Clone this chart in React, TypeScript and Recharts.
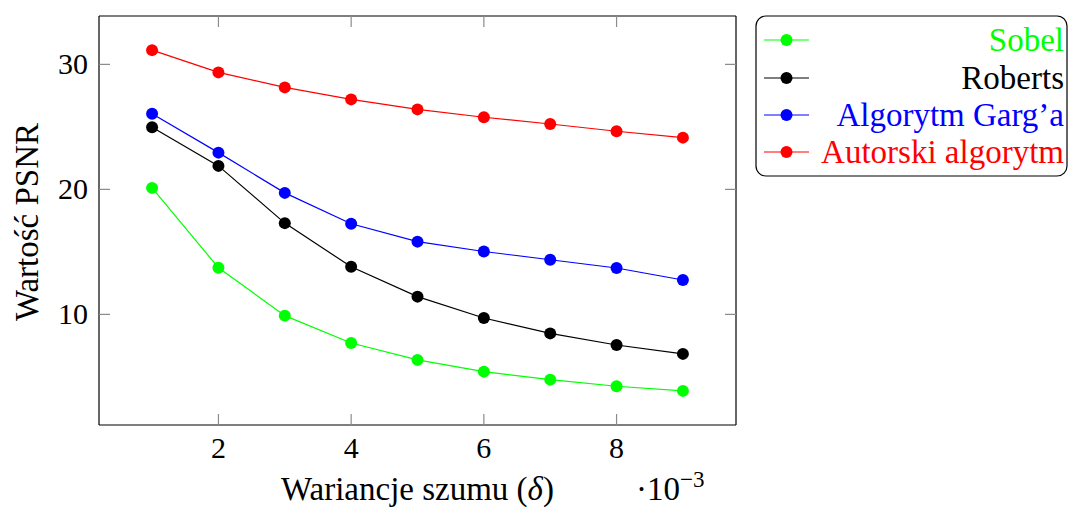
import React from "react";
import { LineChart, Line, XAxis, YAxis } from "recharts";

const xValues = [1, 2, 3, 4, 5, 6, 7, 8, 9];
const sobel = [20.12, 13.73, 9.9, 7.71, 6.36, 5.42, 4.78, 4.25, 3.88];
const roberts = [24.97, 21.88, 17.3, 13.81, 11.42, 9.71, 8.48, 7.55, 6.84];
const garg = [26.05, 22.94, 19.72, 17.25, 15.82, 15.03, 14.37, 13.71, 12.75];
const autorski = [31.14, 29.36, 28.16, 27.2, 26.4, 25.77, 25.23, 24.65, 24.14];
const xTicks = [2, 4, 6, 8];
const yTicks = [10, 20, 30];

const series = [
  { key: "sobel", name: "Sobel", color: "#00ff00", values: sobel },
  { key: "roberts", name: "Roberts", color: "#000000", values: roberts },
  { key: "garg", name: "Algorytm Garg\u2019a", color: "#0000ff", values: garg },
  { key: "autorski", name: "Autorski algorytm", color: "#ff0000", values: autorski },
];

const data = xValues.map((x, i) => {
  const row: any = { x };
  series.forEach((s) => (row[s.key] = s.values[i]));
  return row;
});

const FONT = "Liberation Serif, DejaVu Serif, Times New Roman, serif";
const FS = 30;
const LFS = 33;
const TICK_LEN = 11;
const TICK_COLOR = "#8c8c8c";

const txt = { fontFamily: FONT, fontSize: FS };
const ltxt = { fontFamily: FONT, fontSize: LFS };

const BottomTick = (props: any) => {
  const { x, y, payload } = props;
  return (
    <g>
      <line x1={x} x2={x} y1={y} y2={y - TICK_LEN} stroke={TICK_COLOR} strokeWidth={1.2} />
      <text x={x} y={y + 33} textAnchor="middle" style={txt} fill="#000">
        {payload.value}
      </text>
    </g>
  );
};

const TopTick = (props: any) => {
  const { x, y } = props;
  return <line x1={x} x2={x} y1={y} y2={y + TICK_LEN} stroke={TICK_COLOR} strokeWidth={1.2} />;
};

const LeftTick = (props: any) => {
  const { x, y, payload } = props;
  return (
    <g>
      <line x1={x} x2={x + TICK_LEN} y1={y} y2={y} stroke={TICK_COLOR} strokeWidth={1.2} />
      <text x={x - 11} y={y + 10} textAnchor="end" style={txt} fill="#000">
        {payload.value}
      </text>
    </g>
  );
};

const RightTick = (props: any) => {
  const { x, y } = props;
  return <line x1={x} x2={x - TICK_LEN} y1={y} y2={y} stroke={TICK_COLOR} strokeWidth={1.2} />;
};

const XLabel = (props: any) => {
  const vb = props.viewBox || {};
  const cx = vb.x + vb.width / 2;
  const by = vb.y + 75;
  return (
    <g>
      <text x={cx} y={by} textAnchor="middle" style={ltxt} fill="#000">
        Wariancje szumu (<tspan fontStyle="italic">δ</tspan>)
      </text>
      <text x={636} y={by} style={ltxt} fill="#000">
        ·10
        <tspan fontSize={23} dy={-13}>
          −3
        </tspan>
      </text>
    </g>
  );
};

const YLabel = () => (
  <text x={0} y={0} transform="translate(38, 222) rotate(-90)" textAnchor="middle" style={ltxt} fill="#000">
    Wartość PSNR
  </text>
);

const Legend = () => {
  const rowY = [40, 78, 115, 152];
  return (
    <svg width={1070} height={508} style={{ position: "absolute", left: 0, top: 0, pointerEvents: "none" }}>
      <rect x={756} y={16} width={311} height={160} rx={10} ry={10} fill="#fff" stroke="#000" strokeWidth={1.2} />
      {series.map((s, i) => (
        <g key={s.key}>
          <line x1={764} x2={809} y1={rowY[i]} y2={rowY[i]} stroke={s.color} strokeWidth={1.2} />
          <circle cx={786.5} cy={rowY[i]} r={6} fill={s.color} />
          <text x={1064} y={rowY[i] + 11} textAnchor="end" style={ltxt} fill={s.color}>
            {s.name}
          </text>
        </g>
      ))}
    </svg>
  );
};

export default function App() {
  return (
    <div style={{ position: "absolute", left: 0, top: 0, width: 1070, height: 508, background: "#fff", fontFamily: FONT }}>
      <LineChart width={1070} height={508} data={data} margin={{ top: 15, right: 333, bottom: 43, left: 39 }}>
        <XAxis
          xAxisId="bottom"
          dataKey="x"
          type="number"
          domain={[0.2, 9.8]}
          ticks={xTicks}
          orientation="bottom"
          height={40}
          tickSize={0}
          tickMargin={0}
          tickLine={false}
          tick={<BottomTick />}
          axisLine={{ stroke: "#000", strokeWidth: 1.2 }}
          allowDataOverflow
          interval={0}
          label={<XLabel />}
        />
        <XAxis
          xAxisId="top"
          dataKey="x"
          type="number"
          domain={[0.2, 9.8]}
          ticks={xTicks}
          orientation="top"
          height={1}
          tickSize={0}
          tickMargin={0}
          tickLine={false}
          tick={<TopTick />}
          axisLine={{ stroke: "#000", strokeWidth: 1.2 }}
          allowDataOverflow
          interval={0}
        />
        <YAxis
          yAxisId="left"
          type="number"
          domain={[1.15, 33.87]}
          ticks={yTicks}
          orientation="left"
          width={60}
          tickSize={0}
          tickMargin={0}
          tickLine={false}
          tick={<LeftTick />}
          axisLine={{ stroke: "#000", strokeWidth: 1.2 }}
          allowDataOverflow
          interval={0}
        />
        <YAxis
          yAxisId="right"
          type="number"
          domain={[1.15, 33.87]}
          ticks={yTicks}
          orientation="right"
          width={1}
          tickSize={0}
          tickMargin={0}
          tickLine={false}
          tick={<RightTick />}
          axisLine={{ stroke: "#000", strokeWidth: 1.2 }}
          allowDataOverflow
          interval={0}
        />
        {series.map((s) => (
          <Line
            key={s.key}
            xAxisId="bottom"
            yAxisId="left"
            dataKey={s.key}
            name={s.name}
            type="linear"
            stroke={s.color}
            strokeWidth={1.2}
            dot={{ r: 6, fill: s.color, stroke: "none" }}
            activeDot={false}
            isAnimationActive={false}
          />
        ))}
      </LineChart>
      <svg width={1070} height={508} style={{ position: "absolute", left: 0, top: 0, pointerEvents: "none" }}>
        <YLabel />
      </svg>
      <Legend />
    </div>
  );
}
